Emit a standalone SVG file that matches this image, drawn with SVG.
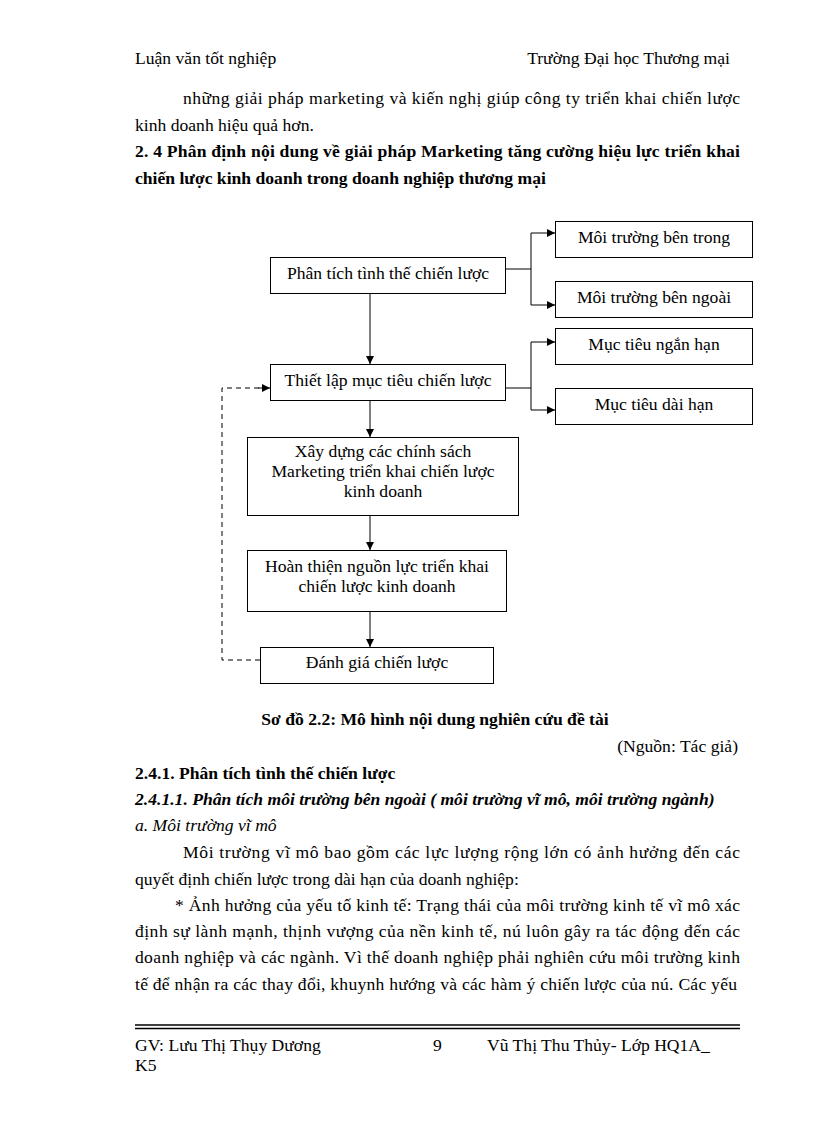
<svg xmlns="http://www.w3.org/2000/svg" width="816" height="1123" viewBox="0 0 816 1123">
<defs>
<marker id="ah" viewBox="0 0 10 10" refX="10" refY="5" markerWidth="8" markerHeight="8" markerUnits="userSpaceOnUse" orient="auto">
<path d="M0,0 L10,5 L0,10 z" fill="#000"/>
</marker>
<style>
text{font-family:"Liberation Serif","Times New Roman",serif;font-size:17.6px;fill:#000}
.b{font-weight:bold}
.bi{font-weight:bold;font-style:italic}
.i{font-style:italic}
.c{text-anchor:middle}
.r{text-anchor:end}
.box{fill:#fff;stroke:#000;stroke-width:1}
.ln{fill:none;stroke:#000;stroke-width:1}
.dash{fill:none;stroke:#000;stroke-width:1;stroke-dasharray:5,4}
</style>
</defs>
<rect width="816" height="1123" fill="#fff"/>

<g id="page-text">
<text x="135" y="64">Luận văn tốt nghiệp</text>
<text x="730" y="64" class="r">Trường Đại học Thương  mại</text>
<text x="183" y="104" textLength="557" lengthAdjust="spacing">những giải pháp marketing và kiến nghị giúp công ty triển khai chiến lược</text>
<text x="135" y="131">kinh doanh hiệu quả hơn.</text>
<text x="135" y="157" class="b" textLength="605" lengthAdjust="spacing">2. 4 Phân định nội dung về giải pháp  Marketing tăng cường hiệu lực triển khai</text>
<text x="135" y="184" class="b">chiến lược kinh doanh  trong doanh nghiệp thương mại</text>

<text x="435" y="725" class="b c">Sơ đồ 2.2: Mô hình nội dung nghiên cứu đề tài</text>
<text x="738" y="752" class="r">(Nguồn: Tác giả)</text>
<text x="135" y="779" class="b">2.4.1. Phân tích tình thế chiến lược</text>
<text x="135" y="805" class="bi">2.4.1.1. Phân tích môi trường bên ngoài ( môi trường vĩ mô, môi trường ngành)</text>
<text x="135" y="831" class="i">a. Môi trường vĩ mô</text>
<text x="183" y="858" textLength="557" lengthAdjust="spacing">Môi trường vĩ mô bao gồm các lực lượng rộng lớn có ảnh hưởng đến các</text>
<text x="135" y="885">quyết định chiến lược trong dài hạn của doanh nghiệp:</text>
<text x="175" y="911" textLength="565" lengthAdjust="spacing">* Ảnh hưởng của yếu tố kinh tế: Trạng thái của môi trường kinh tế vĩ mô xác</text>
<text x="135" y="937" textLength="605" lengthAdjust="spacing">định sự lành mạnh, thịnh vượng  của nền kinh tế, nú luôn gây ra tác động đến các</text>
<text x="135" y="963" textLength="605" lengthAdjust="spacing">doanh nghiệp và các ngành.  Vì thế doanh nghiệp phải nghiên cứu môi trường kinh</text>
<text x="135" y="990" textLength="602" lengthAdjust="spacing">tế để nhận ra các thay đổi, khuynh  hướng  và  các hàm ý chiến lược của nú.  Các yếu</text>

<line x1="135" y1="1025" x2="740" y2="1025" stroke="#000" stroke-width="1.5"/>
<line x1="135" y1="1028.5" x2="740" y2="1028.5" stroke="#000" stroke-width="1.5"/>
<text x="135" y="1051">GV: Lưu Thị Thụy Dương</text>
<text x="433" y="1051">9</text>
<text x="487" y="1051">Vũ Thị Thu Thủy- Lớp HQ1A_</text>
<text x="135" y="1071">K5</text>
</g>

<g id="connectors">
<line class="ln" x1="370" y1="293" x2="370" y2="364" marker-end="url(#ah)"/>
<line class="ln" x1="370" y1="400" x2="370" y2="437" marker-end="url(#ah)"/>
<line class="ln" x1="370" y1="515" x2="370" y2="550" marker-end="url(#ah)"/>
<line class="ln" x1="370" y1="611" x2="370" y2="647" marker-end="url(#ah)"/>
<polyline class="ln" points="505,269 531,269"/>
<polyline class="ln" points="531,233 531,305"/>
<line class="ln" x1="531" y1="233" x2="555" y2="233" marker-end="url(#ah)"/>
<line class="ln" x1="531" y1="305" x2="555" y2="305" marker-end="url(#ah)"/>
<polyline class="ln" points="505,388 531,388"/>
<polyline class="ln" points="531,342 531,410"/>
<line class="ln" x1="531" y1="342" x2="555" y2="342" marker-end="url(#ah)"/>
<line class="ln" x1="531" y1="410" x2="555" y2="410" marker-end="url(#ah)"/>
<polyline class="dash" points="260,660 222,660 222,388 262,388"/>
<line class="ln" x1="258" y1="388" x2="270" y2="388" marker-end="url(#ah)"/>
</g>

<g id="node-phan-tich">
<rect class="box" x="270.5" y="257.5" width="235" height="36"/>
<text x="388" y="279" class="c">Phân tích tình thế chiến lược</text>
</g>
<g id="node-moi-truong-trong">
<rect class="box" x="555.5" y="221.5" width="197" height="36"/>
<text x="654" y="243" class="c">Môi trường bên trong</text>
</g>
<g id="node-moi-truong-ngoai">
<rect class="box" x="555.5" y="281.5" width="197" height="36"/>
<text x="654" y="303" class="c">Môi trường bên ngoài</text>
</g>
<g id="node-thiet-lap">
<rect class="box" x="270.5" y="364.5" width="235" height="36"/>
<text x="388" y="386" class="c">Thiết lập mục tiêu chiến lược</text>
</g>
<g id="node-ngan-han">
<rect class="box" x="555.5" y="328.5" width="197" height="36"/>
<text x="654" y="350" class="c">Mục tiêu ngắn hạn</text>
</g>
<g id="node-dai-han">
<rect class="box" x="555.5" y="388.5" width="197" height="36"/>
<text x="654" y="410" class="c">Mục tiêu dài hạn</text>
</g>
<g id="node-xay-dung">
<rect class="box" x="247.5" y="437.5" width="271" height="78"/>
<text x="383" y="457" class="c">Xây dựng các chính sách</text>
<text x="383" y="477" class="c">Marketing triển khai chiến lược</text>
<text x="383" y="497" class="c">kinh doanh</text>
</g>
<g id="node-hoan-thien">
<rect class="box" x="247.5" y="550.5" width="259" height="61"/>
<text x="377" y="572" class="c">Hoàn thiện nguồn lực triển khai</text>
<text x="377" y="592" class="c">chiến lược kinh doanh</text>
</g>
<g id="node-danh-gia">
<rect class="box" x="260.5" y="647.5" width="233" height="36"/>
<text x="377" y="668" class="c">Đánh giá chiến lược</text>
</g>
</svg>
